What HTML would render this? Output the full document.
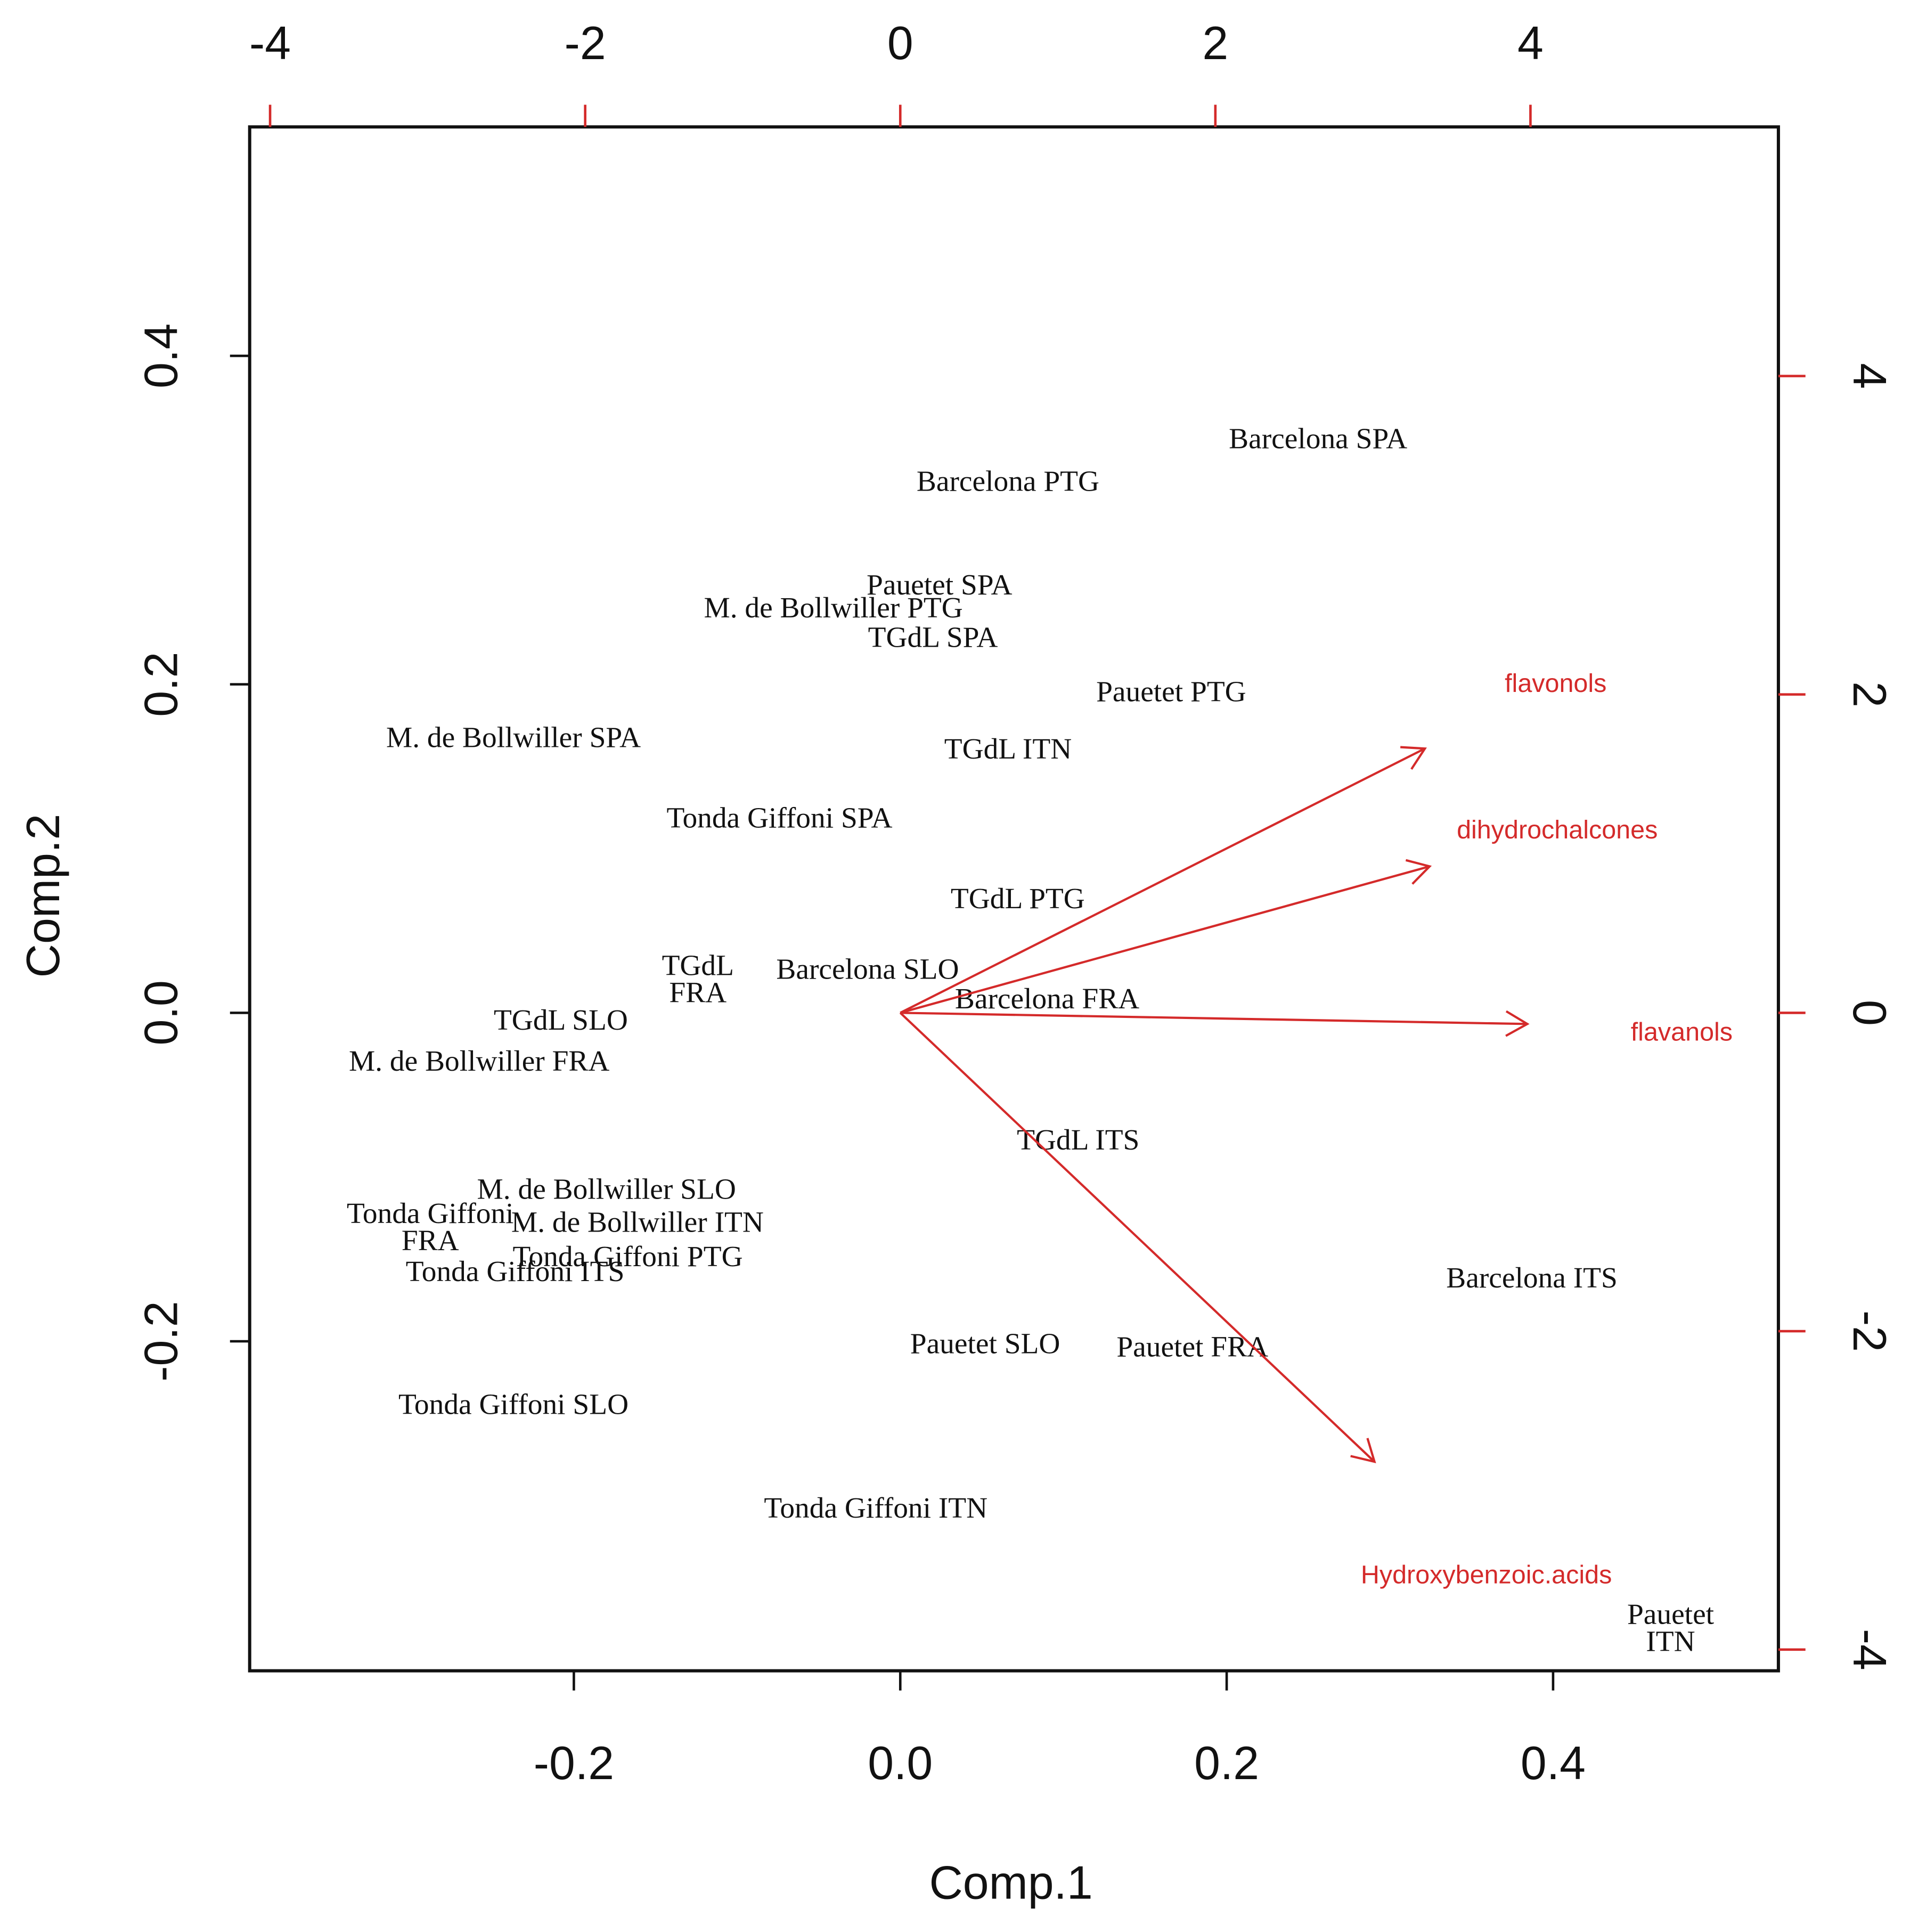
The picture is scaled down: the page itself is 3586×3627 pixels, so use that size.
<!DOCTYPE html>
<html><head><meta charset="utf-8"><style>html,body{margin:0;padding:0;background:#fff}svg{display:block}</style></head>
<body>
<svg id="chart" width="3586" height="3627" viewBox="0 0 1553 1568" preserveAspectRatio="none" xmlns="http://www.w3.org/2000/svg"></svg>
<script>
// Sample scores (Comp.1, Comp.2)
const sampleNames = ["Barcelona SPA","Barcelona PTG","Pauetet SPA","M. de Bollwiller PTG","TGdL SPA","Pauetet PTG","M. de Bollwiller SPA","TGdL ITN","Tonda Giffoni SPA","TGdL PTG","TGdL\nFRA","Barcelona SLO","Barcelona FRA","TGdL SLO","M. de Bollwiller FRA","TGdL ITS","M. de Bollwiller SLO","Tonda Giffoni\nFRA","M. de Bollwiller ITN","Tonda Giffoni PTG","Tonda Giffoni ITS","Barcelona ITS","Pauetet SLO","Pauetet FRA","Tonda Giffoni SLO","Tonda Giffoni ITN","Pauetet\nITN"];
const comp1 = [0.256,0.066,0.024,-0.041,0.020,0.166,-0.237,0.066,-0.074,0.072,-0.124,-0.020,0.090,-0.208,-0.258,0.109,-0.180,-0.288,-0.161,-0.167,-0.236,0.387,0.052,0.179,-0.237,-0.015,0.472];
const comp2 = [0.349,0.323,0.260,0.246,0.228,0.195,0.167,0.160,0.118,0.069,0.020,0.026,0.008,-0.005,-0.030,-0.078,-0.108,-0.131,-0.128,-0.149,-0.158,-0.162,-0.202,-0.204,-0.239,-0.302,-0.375];
// Variable loadings (top/right scale)
const varNames = ["flavonols","dihydrochalcones","flavanols","Hydroxybenzoic.acids"];
const load1 = [3.33,3.36,3.98,3.01];
const load2 = [1.66,0.92,-0.07,-2.82];
const varLabel1 = [4.16,4.17,4.96,3.72];
const varLabel2 = [2.07,1.15,-0.12,-3.53];
// Ticks
const bottomTicks = [-0.2,0.0,0.2,0.4];
const bottomTickLabels = ["-0.2","0.0","0.2","0.4"];
const leftTicks = [-0.2,0.0,0.2,0.4];
const leftTickLabels = ["-0.2","0.0","0.2","0.4"];
const topTicks = [-4,-2,0,2,4];
const topTickLabels = ["-4","-2","0","2","4"];
const rightTicks = [-4,-2,0,2,4];
const rightTickLabels = ["-4","-2","0","2","4"];

const svg = document.getElementById('chart');
const NS = 'http://www.w3.org/2000/svg';
const L=203,T=103,R=1446,B=1356;
const sx = v => 732 + v*1327;
const sy = v => 822 - v*1333;
const ux = v => 732 + v*128.1;
const uy = v => 822 - v*129.2;
const RED = '#d42a2a';
function mk(tag, attrs){const e=document.createElementNS(NS,tag);for(const k in attrs)e.setAttribute(k,attrs[k]);svg.appendChild(e);return e;}

const box = mk('rect',{x:L,y:T,width:R-L,height:B-T,fill:'none',stroke:'#111','stroke-width':2.6});



const SANS='"Liberation Sans", sans-serif';
bottomTicks.forEach((v,i)=>{
  const t=mk('line',{x1:sx(v),x2:sx(v),y1:B,y2:B+16,stroke:'#111','stroke-width':2});
  
  
  const s=mk('text',{x:sx(v),y:1444,'text-anchor':'middle','font-family':SANS,'font-size':38,fill:'#111'});
  s.textContent=bottomTickLabels[i];
  
  
});
leftTicks.forEach((v,i)=>{
  const t=mk('line',{x1:L-16,x2:L,y1:sy(v),y2:sy(v),stroke:'#111','stroke-width':2});
  
  
  const s=mk('text',{x:0,y:0,'text-anchor':'middle','font-family':SANS,'font-size':38,fill:'#111',transform:`translate(144,${sy(v)}) rotate(-90)`});
  s.textContent=leftTickLabels[i];
  
  
});
topTicks.forEach((v,i)=>{
  const t=mk('line',{x1:ux(v),x2:ux(v),y1:T-18,y2:T,stroke:RED,'stroke-width':2});
  
  
  const s=mk('text',{x:ux(v),y:48,'text-anchor':'middle','font-family':SANS,'font-size':38,fill:'#111'});
  s.textContent=topTickLabels[i];
  
  
});
rightTicks.forEach((v,i)=>{
  const t=mk('line',{x1:R,x2:R+22,y1:uy(v),y2:uy(v),stroke:RED,'stroke-width':2});
  
  
  const s=mk('text',{x:0,y:0,'text-anchor':'middle','font-family':SANS,'font-size':38,fill:'#111',transform:`translate(1507,${uy(v)}) rotate(90)`});
  s.textContent=rightTickLabels[i];
  
  
});

const xt=mk('text',{x:822,y:1541,'text-anchor':'middle','font-family':SANS,'font-size':38,fill:'#111'});
xt.textContent='Comp.1';


const yt=mk('text',{x:0,y:0,'text-anchor':'middle','font-family':SANS,'font-size':38,fill:'#111',transform:'translate(48,727) rotate(-90)'});
yt.textContent='Comp.2';



// sample labels
sampleNames.forEach((n,i)=>{
  const lines=n.split('\n');
  const cx=sx(comp1[i]), cy=sy(comp2[i]);
  lines.forEach((ln,j)=>{
    const off=(j-(lines.length-1)/2)*22;
    const s=mk('text',{x:cx,y:cy+off+7,'text-anchor':'middle','font-family':'"Liberation Serif", serif','font-size':24,fill:'#111'});
    s.textContent=ln;
    
    
  });
});

// arrows
varNames.forEach((n,i)=>{
  const x0=ux(0),y0=uy(0),x1=ux(load1[i]),y1=uy(load2[i]);
  const g=mk('g',{});
  
  
  const ln=document.createElementNS(NS,'line');
  ln.setAttribute('x1',x0);ln.setAttribute('y1',y0);ln.setAttribute('x2',x1);ln.setAttribute('y2',y1);
  ln.setAttribute('stroke',RED);ln.setAttribute('stroke-width',1.8);
  g.appendChild(ln);
  const a=Math.atan2(y1-y0,x1-x0), h=20, w=Math.PI/6;
  const p=document.createElementNS(NS,'polyline');
  p.setAttribute('points',`${x1-h*Math.cos(a-w)},${y1-h*Math.sin(a-w)} ${x1},${y1} ${x1-h*Math.cos(a+w)},${y1-h*Math.sin(a+w)}`);
  p.setAttribute('fill','none');p.setAttribute('stroke',RED);p.setAttribute('stroke-width',1.8);
  g.appendChild(p);
  const s=mk('text',{x:ux(varLabel1[i]),y:uy(varLabel2[i])+7,'text-anchor':'middle','font-family':SANS,'font-size':21,fill:RED});
  s.textContent=n;
  
  
});
</script>
</body></html>
